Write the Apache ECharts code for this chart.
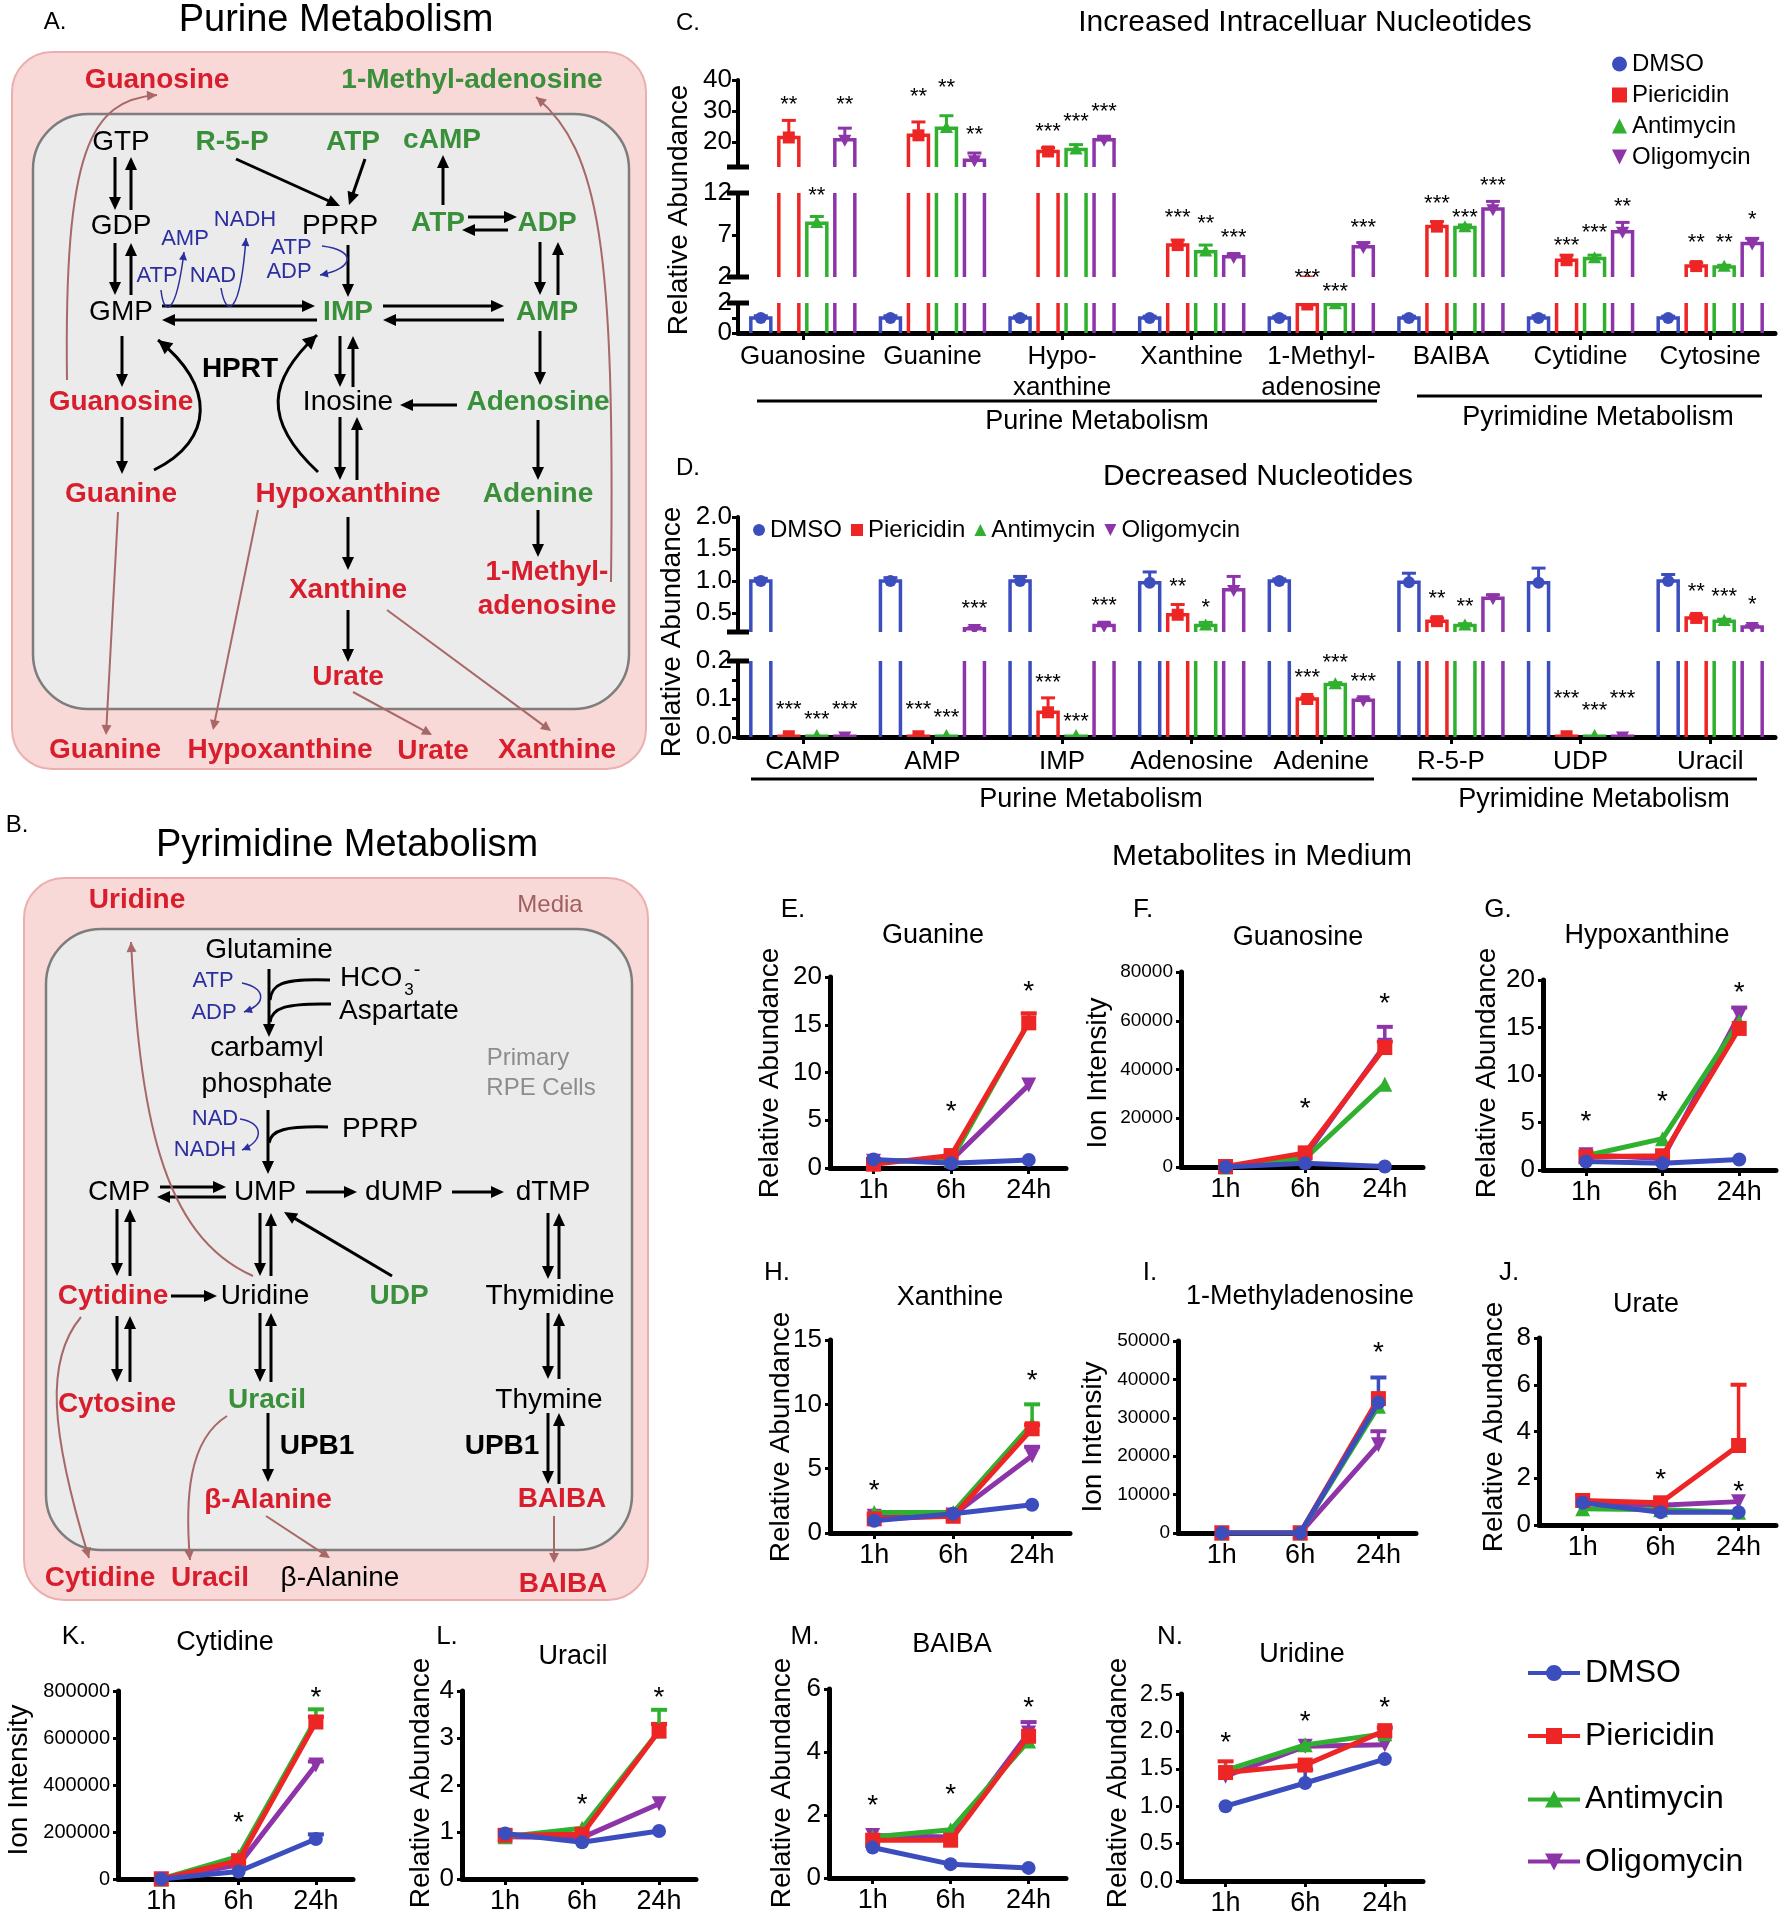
<!DOCTYPE html>
<html><head><meta charset="utf-8">
<script src="https://cdn.jsdelivr.net/npm/echarts@6/dist/echarts.min.js"></script>
<style>html,body{margin:0;padding:0;background:#fff}#chart{width:1779px;height:1920px}</style>
</head><body><div id="chart"></div>
<script>
const FONT = '"Liberation Sans", Arial, Helvetica, sans-serif';
const treatments = ['DMSO', 'Piericidin', 'Antimycin', 'Oligomycin'];
const colors = ['#3C4EBE', '#EE2525', '#2FB12F', '#8D35A8'];
const times = ['1h', '6h', '24h'];

// ---------- Panel C: Increased Intracellular Nucleotides ----------
const cCategories = ['Guanosine', 'Guanine', 'Hypo-\nxanthine', 'Xanthine', '1-Methyl-\nadenosine', 'BAIBA', 'Cytidine', 'Cytosine'];
const cDMSO = [1.0, 1.0, 1.0, 1.0, 1.0, 1.0, 1.0, 1.0];
const cDMSOErr = [1.15, 1.15, 1.12, 1.12, 1.12, 1.12, 1.15, 1.12];
const cPiericidin = [21.5, 22.2, 17.0, 5.8, 1.9, 8.0, 4.0, 3.3];
const cPiericidinErr = [27.0, 26.5, 18.2, 6.4, 2.0, 8.6, 4.6, 3.7];
const cAntimycin = [8.4, 24.5, 17.6, 5.0, 1.9, 7.9, 4.2, 3.2];
const cAntimycinErr = [9.2, 28.5, 19.2, 5.8, 1.95, 8.2, 4.6, 3.4];
const cOligomycin = [20.8, 14.2, 20.8, 4.4, 5.6, 10.1, 7.4, 6.0];
const cOligomycinErr = [24.5, 16.5, 21.8, 4.7, 6.1, 11.0, 8.5, 6.6];
const cPiericidinStars = ['**', '**', '***', '***', '***', '***', '***', '**'];
const cAntimycinStars = ['**', '**', '***', '**', '***', '***', '***', '**'];
const cOligomycinStars = ['**', '**', '***', '***', '***', '***', '**', '*'];
const cPiericidinStarAt = [33.6, 36.1, 24.9, 9.6, 4.0, 11.3, 6.3, 6.6];
const cAntimycinStarAt = [12.2, 39.0, 28.1, 8.9, 3.1, 9.6, 7.8, 6.6];
const cOligomycinStarAt = [33.6, 23.9, 31.3, 7.2, 8.4, 13.4, 10.9, 9.4];

// ---------- Panel D: Decreased Nucleotides ----------
const dCategories = ['CAMP', 'AMP', 'IMP', 'Adenosine', 'Adenine', 'R-5-P', 'UDP', 'Uracil'];
const dDMSO = [1.0, 1.0, 1.0, 0.97, 1.0, 0.98, 0.97, 1.0];
const dDMSOErr = [1.04, 1.05, 1.07, 1.14, 1.03, 1.12, 1.2, 1.1];
const dPiericidin = [0.002, 0.002, 0.065, 0.47, 0.10, 0.37, 0.002, 0.42];
const dPiericidinErr = [0.002, 0.002, 0.103, 0.63, 0.105, 0.42, 0.002, 0.46];
const dAntimycin = [0.002, 0.002, 0.002, 0.30, 0.138, 0.30, 0.002, 0.37];
const dAntimycinErr = [0.002, 0.002, 0.002, 0.35, 0.143, 0.33, 0.002, 0.40];
const dOligomycin = [0.002, 0.25, 0.30, 0.86, 0.097, 0.73, 0.002, 0.28];
const dOligomycinErr = [0.002, 0.27, 0.34, 1.07, 0.102, 0.78, 0.002, 0.30];
const dPiericidinStars = ['***', '***', '***', '**', '***', '**', '***', '**'];
const dAntimycinStars = ['***', '***', '***', '*', '***', '**', '***', '***'];
const dOligomycinStars = ['***', '***', '***', '', '***', '', '***', '*'];
const dPiericidinStarAt = [0.084, 0.084, 0.155, 0.98, 0.168, 0.79, 0.113, 0.90];
const dAntimycinStarAt = [0.058, 0.063, 0.053, 0.65, 0.208, 0.67, 0.082, 0.83];
const dOligomycinStarAt = [0.084, 0.64, 0.69, 0, 0.158, 0, 0.113, 0.70];

// ---------- Metabolites in medium (1h, 6h, 24h) ----------
const guanineDMSO = [0.9, 0.5, 0.85];
const guaninePiericidin = [0.4, 1.3, 15.2];
const guanineAntimycin = [0.7, 0.8, 15.3];
const guanineOligomycin = [0.7, 0.8, 8.7];
const guaninePiericidinErr = [null, null, 16.2];
const guanineStars = [null, 6.6, 19.1];

const guanosineDMSO = [0, 1500, 200];
const guanosinePiericidin = [200, 5800, 49000];
const guanosineAntimycin = [0, 3500, 34000];
const guanosineOligomycin = [0, 4500, 50000];
const guanosinePiericidinErr = [null, null, 51500];
const guanosineOligomycinErr = [null, null, 57500];
const guanosineStars = [null, 26700, 69800];

const hypoxanthineDMSO = [0.9, 0.7, 1.1];
const hypoxanthinePiericidin = [1.4, 1.5, 14.9];
const hypoxanthineAntimycin = [1.5, 3.3, 15.6];
const hypoxanthineOligomycin = [1.6, 1.2, 16.3];
const hypoxanthineOligomycinErr = [null, null, 17.1];
const hypoxanthineStars = [5.8, 7.9, 19.3];

const xanthineDMSO = [0.95, 1.5, 2.2];
const xanthinePiericidin = [1.1, 1.3, 8.1];
const xanthineAntimycin = [1.6, 1.6, 8.5];
const xanthineOligomycin = [1.3, 1.4, 6.0];
const xanthinePiericidinErr = [null, null, 8.4];
const xanthineAntimycinErr = [null, null, 10.0];
const xanthineOligomycinErr = [null, null, 6.7];
const xanthineStars = [3.8, null, 12.3];

const methyladenosineDMSO = [0, 0, 34000];
const methyladenosinePiericidin = [0, 0, 35000];
const methyladenosineAntimycin = [0, 0, 33000];
const methyladenosineOligomycin = [0, 0, 23000];
const methyladenosineDMSOErr = [null, null, 40500];
const methyladenosineOligomycinErr = [null, null, 26500];
const methyladenosineStars = [null, null, 48500];

const urateDMSO = [0.95, 0.55, 0.55];
const uratePiericidin = [1.05, 0.95, 3.4];
const urateAntimycin = [0.7, 0.65, 0.55];
const urateOligomycin = [0.95, 0.85, 1.0];
const uratePiericidinErr = [null, null, 6.0];
const urateStars = [null, 2.2, 1.7];

const cytidineDMSO = [0, 32000, 170000];
const cytidinePiericidin = [0, 78000, 668000];
const cytidineAntimycin = [0, 96000, 680000];
const cytidineOligomycin = [0, 60000, 485000];
const cytidineDMSOErr = [null, null, 190000];
const cytidinePiericidinErr = [null, null, 690000];
const cytidineAntimycinErr = [null, null, 722000];
const cytidineOligomycinErr = [null, null, 500000];
const cytidineStars = [null, 266000, 800000];

const uracilDMSO = [0.97, 0.78, 1.02];
const uracilPiericidin = [0.93, 0.95, 3.15];
const uracilAntimycin = [0.9, 1.08, 3.15];
const uracilOligomycin = [0.9, 0.88, 1.6];
const uracilPiericidinErr = [null, null, 3.3];
const uracilAntimycinErr = [null, null, 3.6];
const uracilStars = [null, 1.72, 4.0];

const baibaDMSO = [0.97, 0.44, 0.32];
const baibaPiericidin = [1.2, 1.2, 4.5];
const baibaAntimycin = [1.3, 1.53, 4.35];
const baibaOligomycin = [1.35, 1.3, 4.6];
const baibaOligomycinErr = [null, null, 4.95];
const baibaStars = [2.5, 2.86, 5.6];

const uridineDMSO = [1.0, 1.31, 1.63];
const uridinePiericidin = [1.45, 1.55, 2.01];
const uridineAntimycin = [1.48, 1.82, 1.97];
const uridineOligomycin = [1.4, 1.8, 1.82];
const uridineDMSOErr = [null, 1.49, null];
const uridinePiericidinErr = [1.6, null, 2.05];
const uridineStars = [1.93, 2.22, 2.4];

// ================= drawing =================
const RED = '#D81E2C', GREEN = '#3A8F3A', BLUE = '#2B2F9E', BROWN = '#A86868';
const PINK = '#F8D9D7', PINKS = '#EBB0AE', GRAY = '#EBEBEB', GRAYS = '#7D7D7D';
const G = [];
function fnt(fs, b) { return (b ? 'bold ' : '') + fs + 'px ' + FONT; }
function txt(x, y, text, o) {
  o = o || {};
  G.push({type: 'text', x: x, y: y, rotation: o.rot || 0, z: o.z || 60, silent: true,
    style: {text: text, fill: o.c || '#000', font: fnt(o.fs || 27, o.b),
      align: o.al || 'center', verticalAlign: o.va || 'middle', textAlign: o.al || 'center', textVerticalAlign: o.va || 'middle'}});
}
function head(tx, ty, dx, dy, col, L, W) {
  const len = Math.hypot(dx, dy), ux = dx / len, uy = dy / len, nx = -uy, ny = ux;
  G.push({type: 'polygon', z: 51, silent: true, shape: {points: [[tx, ty], [tx - ux * L + nx * W, ty - uy * L + ny * W], [tx - ux * L - nx * W, ty - uy * L - ny * W]]}, style: {fill: col}});
}
function arrow(x1, y1, x2, y2, col, lw, L, W) {
  col = col || '#000'; lw = lw || 3; L = L || 13; W = W || 6;
  const dx = x2 - x1, dy = y2 - y1, len = Math.hypot(dx, dy), ux = dx / len, uy = dy / len;
  G.push({type: 'line', z: 50, silent: true, shape: {x1: x1, y1: y1, x2: x2 - ux * L * 0.7, y2: y2 - uy * L * 0.7}, style: {stroke: col, lineWidth: lw}});
  head(x2, y2, dx, dy, col, L, W);
}
function curve(p0, c1, c2, p3, col, lw, L, W, withHead) {
  G.push({type: 'bezierCurve', z: 50, silent: true, shape: {x1: p0[0], y1: p0[1], cpx1: c1[0], cpy1: c1[1], cpx2: c2[0], cpy2: c2[1], x2: p3[0], y2: p3[1]}, style: {stroke: col, lineWidth: lw, fill: 'none'}});
  if (withHead !== false) head(p3[0], p3[1], p3[0] - c2[0], p3[1] - c2[1], col, L, W);
}

// ---- Panel A: Purine metabolism diagram ----
txt(55, 22, 'A.', {fs: 24});
txt(336, 21, 'Purine Metabolism', {fs: 38});
G.push({type: 'rect', z: 1, silent: true, shape: {x: 12, y: 52, width: 634, height: 717, r: 40}, style: {fill: PINK, stroke: PINKS, lineWidth: 2}});
G.push({type: 'rect', z: 2, silent: true, shape: {x: 33, y: 114, width: 596, height: 595, r: 55}, style: {fill: GRAY, stroke: GRAYS, lineWidth: 2.5}});
[['Guanosine', 157, 80, RED, 1], ['1-Methyl-adenosine', 472, 80, GREEN, 1], ['GTP', 121, 142, '#000', 0], ['R-5-P', 232, 142, GREEN, 1],
 ['ATP', 353, 142, GREEN, 1], ['cAMP', 442, 140, GREEN, 1], ['GDP', 121, 226, '#000', 0], ['PPRP', 340, 226, '#000', 0],
 ['ATP', 438, 223, GREEN, 1], ['ADP', 547, 223, GREEN, 1], ['GMP', 121, 312, '#000', 0], ['IMP', 348, 312, GREEN, 1],
 ['AMP', 547, 312, GREEN, 1], ['HPRT', 240, 369, '#000', 1], ['Guanosine', 121, 402, RED, 1], ['Inosine', 348, 402, '#000', 0],
 ['Adenosine', 538, 402, GREEN, 1], ['Guanine', 121, 494, RED, 1], ['Hypoxanthine', 348, 494, RED, 1], ['Adenine', 538, 494, GREEN, 1],
 ['Xanthine', 348, 590, RED, 1], ['1-Methyl-', 547, 572, RED, 1], ['adenosine', 547, 606, RED, 1], ['Urate', 348, 677, RED, 1],
 ['Guanine', 105, 750, RED, 1], ['Hypoxanthine', 280, 750, RED, 1], ['Urate', 433, 751, RED, 1], ['Xanthine', 557, 750, RED, 1]
].forEach(a => txt(a[1], a[2], a[0], {c: a[3], b: a[4], fs: 28}));
[['AMP', 185, 239], ['NADH', 245, 220], ['ATP', 291, 248], ['ADP', 289, 272], ['ATP', 157, 276], ['NAD', 213, 276]]
  .forEach(a => txt(a[1], a[2], a[0], {c: BLUE, fs: 22}));
[[115,157,115,210],[131,210,131,157],[115,243,115,295],[131,295,131,243],[236,159,340,206],[365,159,349,205],
 [443,205,443,155],[468,217,517,217],[508,230,462,230],[540,242,540,295],[558,295,558,242],[348,245,348,297],
 [162,306,315,306],[317,320,162,320],[383,306,504,306],[504,320,383,320],[122,336,122,387],[122,417,122,474],
 [340,336,340,387],[353,387,353,336],[340,417,340,480],[357,480,357,417],[540,331,540,385],[457,405,400,405],
 [538,420,538,480],[538,510,538,557],[348,517,348,570],[348,610,348,662]].forEach(a => arrow(a[0], a[1], a[2], a[3]));
curve([154, 470], [215, 440], [215, 385], [158, 340], '#000', 3, 14, 7);
curve([318, 472], [262, 420], [268, 380], [317, 335], '#000', 3, 14, 7);
curve([161, 290], [164, 318], [176, 316], [184, 252], BLUE, 1.5, 8, 4);
curve([221, 288], [226, 318], [240, 318], [246, 238], BLUE, 1.5, 8, 4);
curve([322, 246], [356, 250], [356, 268], [320, 275], BLUE, 1.5, 8, 4);
curve([67, 380], [64, 150], [90, 100], [157, 95], BROWN, 2, 10, 5);
curve([611, 582], [615, 250], [600, 150], [536, 97], BROWN, 2, 10, 5);
arrow(118, 512, 106, 735, BROWN, 2, 10, 5);
arrow(258, 510, 213, 730, BROWN, 2, 10, 5);
arrow(353, 692, 432, 735, BROWN, 2, 10, 5);
arrow(387, 610, 551, 731, BROWN, 2, 10, 5);

// ---- Panel B: Pyrimidine metabolism diagram ----
txt(17, 825, 'B.', {fs: 24});
txt(347, 846, 'Pyrimidine Metabolism', {fs: 38});
G.push({type: 'rect', z: 1, silent: true, shape: {x: 24, y: 878, width: 624, height: 722, r: 40}, style: {fill: PINK, stroke: PINKS, lineWidth: 2}});
G.push({type: 'rect', z: 2, silent: true, shape: {x: 46, y: 929, width: 586, height: 621, r: 55}, style: {fill: GRAY, stroke: GRAYS, lineWidth: 2.5}});
[['Uridine', 137, 900, RED, 1], ['Glutamine', 269, 950, '#000', 0], ['Aspartate', 399, 1011, '#000', 0], ['carbamyl', 267, 1048, '#000', 0],
 ['phosphate', 267, 1084, '#000', 0], ['PPRP', 380, 1129, '#000', 0], ['CMP', 119, 1192, '#000', 0], ['UMP', 265, 1192, '#000', 0],
 ['dUMP', 404, 1192, '#000', 0], ['dTMP', 553, 1192, '#000', 0], ['Cytidine', 113, 1296, RED, 1], ['Uridine', 265, 1296, '#000', 0],
 ['UDP', 399, 1296, GREEN, 1], ['Thymidine', 550, 1296, '#000', 0], ['Cytosine', 117, 1404, RED, 1], ['Uracil', 267, 1400, GREEN, 1],
 ['Thymine', 549, 1400, '#000', 0], ['UPB1', 317, 1446, '#000', 1], ['UPB1', 502, 1446, '#000', 1], ['β-Alanine', 268, 1500, RED, 1],
 ['BAIBA', 562, 1499, RED, 1], ['Cytidine', 100, 1578, RED, 1], ['Uracil', 210, 1578, RED, 1], ['β-Alanine', 340, 1578, '#000', 0],
 ['BAIBA', 563, 1584, RED, 1]].forEach(a => txt(a[1], a[2], a[0], {c: a[3], b: a[4], fs: 28}));
txt(340, 978, 'HCO', {fs: 28, al: 'left'});
txt(409, 990, '3', {fs: 17});
txt(417, 970, '-', {fs: 20});
txt(550, 905, 'Media', {c: '#A0605F', fs: 24});
txt(528, 1058, 'Primary', {c: '#8C8C8C', fs: 24});
txt(541, 1088, 'RPE Cells', {c: '#8C8C8C', fs: 24});
[['ATP', 213, 981], ['ADP', 214, 1013], ['NAD', 215, 1119], ['NADH', 205, 1150]].forEach(a => txt(a[1], a[2], a[0], {c: BLUE, fs: 22}));
arrow(269, 969, 269, 1037);
curve([330, 980], [280, 978], [272, 985], [270, 1000], '#000', 3, 0, 0, false);
curve([331, 1004], [285, 1003], [272, 1008], [270, 1022], '#000', 3, 0, 0, false);
curve([242, 983], [265, 988], [268, 1003], [244, 1012], BLUE, 1.5, 8, 4);
arrow(268, 1110, 268, 1174);
curve([328, 1127], [285, 1126], [271, 1130], [269, 1143], '#000', 3, 0, 0, false);
curve([240, 1119], [262, 1122], [266, 1140], [242, 1150], BLUE, 1.5, 8, 4);
[[160,1187,226,1187],[226,1197,157,1197],[306,1192,357,1192],[452,1192,504,1192],[117,1209,117,1276],[130,1276,130,1209],
 [117,1316,117,1382],[130,1382,130,1316],[171,1296,217,1296],[260,1213,260,1276],[271,1276,271,1213],[392,1276,284,1212],
 [260,1313,260,1382],[271,1382,271,1313],[268,1413,268,1482],[548,1213,548,1279],[559,1279,559,1213],[548,1313,548,1379],
 [559,1379,559,1313],[548,1413,548,1484],[559,1484,559,1413]].forEach(a => arrow(a[0], a[1], a[2], a[3]));
curve([253, 1276], [160, 1235], [140, 1110], [131, 942], BROWN, 2, 10, 5);
curve([81, 1317], [45, 1360], [50, 1430], [89, 1558], BROWN, 2, 10, 5);
curve([227, 1416], [188, 1440], [185, 1500], [190, 1560], BROWN, 2, 10, 5);
arrow(266, 1516, 330, 1558, BROWN, 2, 10, 5);
arrow(554, 1516, 554, 1563, BROWN, 2, 10, 5);

// ================= charts =================
const option = {backgroundColor: '#fff', animation: false, textStyle: {fontFamily: FONT},
  grid: [], xAxis: [], yAxis: [], series: [], legend: [], graphic: {elements: G}};

const BAR_STEP = 28, BAR_HALF = 10;
function marker(t, x, y, r, col) {
  if (t === 0) return {type: 'circle', shape: {cx: x, cy: y, r: r}, style: {fill: col}};
  if (t === 1) return {type: 'rect', shape: {x: x - r, y: y - r, width: 2 * r, height: 2 * r}, style: {fill: col}};
  if (t === 2) return {type: 'polygon', shape: {points: [[x, y - r * 1.2], [x + r * 1.1, y + r * 0.8], [x - r * 1.1, y + r * 0.8]]}, style: {fill: col}};
  return {type: 'polygon', shape: {points: [[x - r * 1.1, y - r * 0.8], [x + r * 1.1, y - r * 0.8], [x, y + r * 1.2]]}, style: {fill: col}};
}
// hollow bar (open at the bottom so clipped segments show only the sides), error bar and mean marker
function makeBarRenderer(t, smin, smax) {
  return function (params, api) {
    const ci = api.value(0), v = api.value(1), e = api.value(2);
    const pv = api.coord([ci, v]), y0 = api.coord([ci, 0])[1];
    const x = pv[0] + (t - 1.5) * BAR_STEP, y = pv[1], col = colors[t], ch = [];
    if (v >= smin) {
      ch.push({type: 'polyline', shape: {points: [[x - BAR_HALF, y0], [x - BAR_HALF, y], [x + BAR_HALF, y], [x + BAR_HALF, y0]]},
        style: {stroke: col, lineWidth: 3.5, fill: 'none'}});
    }
    if (!isNaN(e) && e > v && e >= smin) {
      const ye = api.coord([ci, e])[1];
      ch.push({type: 'line', shape: {x1: x, y1: y, x2: x, y2: ye}, style: {stroke: col, lineWidth: 3}});
      if (e <= smax) ch.push({type: 'line', shape: {x1: x - 7, y1: ye, x2: x + 7, y2: ye}, style: {stroke: col, lineWidth: 3}});
    }
    if (v >= smin && v <= smax) ch.push(marker(t, x, y, 6, col));
    return {type: 'group', children: ch};
  };
}

function buildBarPanel(cfg) {
  cfg.segs.forEach((s, si) => {
    const gi = option.grid.length;
    const isBottom = si === cfg.segs.length - 1;
    option.grid.push({left: cfg.left, right: cfg.right, top: s.top, height: s.height});
    option.xAxis.push({type: 'category', gridIndex: gi, data: cfg.cats,
      axisLine: {show: isBottom, onZero: false, lineStyle: {color: '#000', width: 5}},
      axisTick: {show: isBottom, alignWithLabel: true, length: 7, lineStyle: {color: '#000', width: 3}},
      axisLabel: {show: isBottom, interval: 0, fontSize: 26, color: '#000', margin: cfg.labelMargin, lineHeight: 31, fontFamily: FONT},
      splitLine: {show: false}});
    option.yAxis.push({type: 'value', gridIndex: gi, min: s.min, max: s.max,
      axisLine: {show: true, onZero: false, lineStyle: {color: '#000', width: 4}},
      axisTick: {show: true, customValues: s.ticks, length: 6, lineStyle: {color: '#000', width: 3}},
      axisLabel: {customValues: s.labels, fontSize: 26, color: '#000', margin: 6, fontFamily: FONT, formatter: s.fmt || (v => String(v))},
      splitLine: {show: false}});
    treatments.forEach((name, t) => {
      option.series.push({type: 'custom', name: name, xAxisIndex: gi, yAxisIndex: gi, clip: true, silent: true, z: 2 + t * 0.1,
        itemStyle: {color: colors[t]},
        data: cfg.means[t].map((v, ci) => [ci, v, cfg.errs[t][ci]]), encode: {x: 0, y: 1},
        renderItem: makeBarRenderer(t, s.min, s.max)});
    });
    const starPts = [], starTexts = [];
    for (let t = 1; t < 4; t++) {
      cfg.stars[t - 1].forEach((st, ci) => {
        if (st && cfg.segOf(cfg.means[t][ci]) === si) { starPts.push([ci, cfg.starAt[t - 1][ci], t]); starTexts.push(st); }
      });
    }
    option.series.push({type: 'custom', xAxisIndex: gi, yAxisIndex: gi, clip: false, silent: true, z: 4,
      data: starPts, encode: {x: 0, y: 1},
      renderItem: function (params, api) {
        const c = api.coord([api.value(0), api.value(1)]);
        return {type: 'text', x: c[0] + (api.value(2) - 1.5) * BAR_STEP, y: c[1] + 5,
          style: {text: starTexts[params.dataIndex], fill: '#000', font: fnt(22), align: 'center', verticalAlign: 'middle', textAlign: 'center', textVerticalAlign: 'middle'}};
      }});
  });
}

buildBarPanel({
  cats: cCategories, left: 738, right: 4, labelMargin: 8,
  means: [cDMSO, cPiericidin, cAntimycin, cOligomycin],
  errs: [cDMSOErr, cPiericidinErr, cAntimycinErr, cOligomycinErr],
  stars: [cPiericidinStars, cAntimycinStars, cOligomycinStars],
  starAt: [cPiericidinStarAt, cAntimycinStarAt, cOligomycinStarAt],
  segOf: v => (v > 12 ? 0 : v > 2 ? 1 : 2),
  segs: [
    {top: 80, height: 87, min: 12, max: 40, ticks: [20, 30, 40], labels: [20, 30, 40]},
    {top: 193, height: 84, min: 2, max: 12, ticks: [2, 7, 12], labels: [2, 7, 12]},
    {top: 303, height: 30, min: 0, max: 2, ticks: [0, 1, 2], labels: [0, 2]}
  ]
});
buildBarPanel({
  cats: dCategories, left: 738, right: 4, labelMargin: 9,
  means: [dDMSO, dPiericidin, dAntimycin, dOligomycin],
  errs: [dDMSOErr, dPiericidinErr, dAntimycinErr, dOligomycinErr],
  stars: [dPiericidinStars, dAntimycinStars, dOligomycinStars],
  starAt: [dPiericidinStarAt, dAntimycinStarAt, dOligomycinStarAt],
  segOf: v => (v > 0.2 ? 0 : 1),
  segs: [
    {top: 517, height: 115, min: 0.2, max: 2.0, ticks: [0.5, 1.0, 1.5, 2.0], labels: [0.5, 1.0, 1.5, 2.0], fmt: v => v.toFixed(1)},
    {top: 661, height: 76, min: 0, max: 0.2, ticks: [0, 0.05, 0.1, 0.15, 0.2], labels: [0, 0.1, 0.2], fmt: v => v.toFixed(1)}
  ]
});

// break marks, group lines, titles for C and D
[167, 193, 277, 303, 632, 661].forEach(y => G.push({type: 'line', z: 60, silent: true, shape: {x1: 727, y1: y, x2: 749, y2: y}, style: {stroke: '#000', lineWidth: 5}}));
[[757, 1377, 401], [1417, 1762, 396], [751, 1374, 779], [1412, 1757, 779]].forEach(a =>
  G.push({type: 'line', z: 60, silent: true, shape: {x1: a[0], y1: a[2], x2: a[1], y2: a[2]}, style: {stroke: '#000', lineWidth: 3}}));
txt(1097, 422, 'Purine Metabolism', {fs: 27});
txt(1598, 418, 'Pyrimidine Metabolism', {fs: 27});
txt(1091, 800, 'Purine Metabolism', {fs: 27});
txt(1594, 800, 'Pyrimidine Metabolism', {fs: 27});
txt(688, 23, 'C.', {fs: 24});
txt(1305, 23, 'Increased Intracelluar Nucleotides', {fs: 30});
txt(688, 468, 'D.', {fs: 24});
txt(1258, 477, 'Decreased Nucleotides', {fs: 30});
txt(679, 210, 'Relative Abundance', {fs: 28, rot: Math.PI / 2});
txt(672, 632, 'Relative Abundance', {fs: 28, rot: Math.PI / 2});
txt(1262, 857, 'Metabolites in Medium', {fs: 30});

// legends
const barIcons = ['circle', 'rect', 'triangle', 'path://M0,0L10,0L5,10Z'];
option.legend.push({orient: 'vertical', left: 1612, top: 52, padding: 0, itemWidth: 15, itemHeight: 15, itemGap: 7, selectedMode: false,
  textStyle: {fontSize: 24, fontFamily: FONT, color: '#000'},
  data: treatments.map((n, i) => ({name: n, icon: barIcons[i], itemStyle: {color: colors[i], borderWidth: 0}}))});
option.legend.push({orient: 'horizontal', left: 753, top: 518, padding: 0, itemWidth: 12, itemHeight: 12, itemGap: 9, selectedMode: false,
  textStyle: {fontSize: 24, fontFamily: FONT, color: '#000'},
  data: treatments.map((n, i) => ({name: n, icon: barIcons[i], itemStyle: {color: colors[i], borderWidth: 0}}))});
const lineIcons = [
  'path://M0,7H52V11H0Z M18,9A8,8 0 1,1 34,9A8,8 0 1,1 18,9Z',
  'path://M0,7H52V11H0Z M18,1H34V17H18Z',
  'path://M0,7H52V11H0Z M26,0L35,17H17Z',
  'path://M0,7H52V11H0Z M17,1H35L26,18Z'];
option.legend.push({orient: 'vertical', left: 1528, top: 1657, padding: 0, itemWidth: 52, itemHeight: 18, itemGap: 31, selectedMode: false,
  textStyle: {fontSize: 32, fontFamily: FONT, color: '#000'},
  data: treatments.map((n, i) => ({name: n, icon: lineIcons[i], itemStyle: {color: colors[i], borderWidth: 0}}))});

// line panels
const lineSymbols = ['circle', 'rect', 'triangle', 'path://M0,0L10,0L5,10Z'];
const linePanels = [
  {letter: 'E.', title: 'Guanine', yName: 'Relative Abundance', max: 20, interval: 5, fs: 26,
   values: [guanineDMSO, guaninePiericidin, guanineAntimycin, guanineOligomycin], errs: [null, guaninePiericidinErr, null, null], stars: guanineStars,
   lay: {left: 830, width: 236, top: 977, height: 191, letter: [793, 910], title: [933, 936], yname: [770, 1073]}},
  {letter: 'F.', title: 'Guanosine', yName: 'Ion Intensity', max: 80000, interval: 20000, fs: 19,
   values: [guanosineDMSO, guanosinePiericidin, guanosineAntimycin, guanosineOligomycin], errs: [null, guanosinePiericidinErr, null, guanosineOligomycinErr], stars: guanosineStars,
   lay: {left: 1181, width: 242, top: 972, height: 195, letter: [1143, 910], title: [1298, 938], yname: [1098, 1073]}},
  {letter: 'G.', title: 'Hypoxanthine', yName: 'Relative Abundance', max: 20, interval: 5, fs: 26,
   values: [hypoxanthineDMSO, hypoxanthinePiericidin, hypoxanthineAntimycin, hypoxanthineOligomycin], errs: [null, null, null, hypoxanthineOligomycinErr], stars: hypoxanthineStars,
   lay: {left: 1543, width: 233, top: 980, height: 190, letter: [1498, 910], title: [1647, 936], yname: [1487, 1073]}},
  {letter: 'H.', title: 'Xanthine', yName: 'Relative Abundance', max: 15, interval: 5, fs: 26,
   values: [xanthineDMSO, xanthinePiericidin, xanthineAntimycin, xanthineOligomycin], errs: [null, xanthinePiericidinErr, xanthineAntimycinErr, xanthineOligomycinErr], stars: xanthineStars,
   lay: {left: 830, width: 240, top: 1340, height: 193, letter: [777, 1273], title: [950, 1298], yname: [781, 1437]}},
  {letter: 'I.', title: '1-Methyladenosine', yName: 'Ion Intensity', max: 50000, interval: 10000, fs: 19,
   values: [methyladenosineDMSO, methyladenosinePiericidin, methyladenosineAntimycin, methyladenosineOligomycin], errs: [methyladenosineDMSOErr, null, null, methyladenosineOligomycinErr], stars: methyladenosineStars,
   lay: {left: 1178, width: 238, top: 1341, height: 192, letter: [1150, 1273], title: [1300, 1297], yname: [1093, 1437]}},
  {letter: 'J.', title: 'Urate', yName: 'Relative Abundance', max: 8, interval: 2, fs: 26,
   values: [urateDMSO, uratePiericidin, urateAntimycin, urateOligomycin], errs: [null, uratePiericidinErr, null, null], stars: urateStars,
   lay: {left: 1539, width: 237, top: 1338, height: 187, letter: [1509, 1273], title: [1646, 1305], yname: [1494, 1427]}},
  {letter: 'K.', title: 'Cytidine', yName: 'Ion Intensity', max: 800000, interval: 200000, fs: 20,
   values: [cytidineDMSO, cytidinePiericidin, cytidineAntimycin, cytidineOligomycin], errs: [cytidineDMSOErr, cytidinePiericidinErr, cytidineAntimycinErr, cytidineOligomycinErr], stars: cytidineStars,
   lay: {left: 118, width: 235, top: 1691, height: 188, letter: [74, 1637], title: [225, 1643], yname: [19, 1780]}},
  {letter: 'L.', title: 'Uracil', yName: 'Relative Abundance', max: 4, interval: 1, fs: 26,
   values: [uracilDMSO, uracilPiericidin, uracilAntimycin, uracilOligomycin], errs: [null, uracilPiericidinErr, uracilAntimycinErr, null], stars: uracilStars,
   lay: {left: 462, width: 234, top: 1691, height: 188, letter: [447, 1637], title: [573, 1657], yname: [421, 1783]}},
  {letter: 'M.', title: 'BAIBA', yName: 'Relative Abundance', max: 6, interval: 2, fs: 26,
   values: [baibaDMSO, baibaPiericidin, baibaAntimycin, baibaOligomycin], errs: [null, null, null, baibaOligomycinErr], stars: baibaStars,
   lay: {left: 829, width: 237, top: 1689, height: 189, letter: [805, 1637], title: [952, 1645], yname: [782, 1783]}},
  {letter: 'N.', title: 'Uridine', yName: 'Relative Abundance', max: 2.5, interval: 0.5, fs: 24, fmt: v => v.toFixed(1),
   values: [uridineDMSO, uridinePiericidin, uridineAntimycin, uridineOligomycin], errs: [uridineDMSOErr, uridinePiericidinErr, null, null], stars: uridineStars,
   lay: {left: 1181, width: 242, top: 1694, height: 187, letter: [1170, 1637], title: [1302, 1655], yname: [1118, 1783]}}
];

function renderLineErr(params, api) {
  const x = api.value(0), v = api.value(1), e = api.value(2), t = api.value(3);
  const p = api.coord([x, v]), pe = api.coord([x, e]), col = colors[t];
  return {type: 'group', children: [
    {type: 'line', shape: {x1: p[0], y1: p[1], x2: p[0], y2: pe[1]}, style: {stroke: col, lineWidth: 3.5}},
    {type: 'line', shape: {x1: p[0] - 8, y1: pe[1], x2: p[0] + 8, y2: pe[1]}, style: {stroke: col, lineWidth: 4}}]};
}

linePanels.forEach(p => {
  const gi = option.grid.length, L = p.lay;
  option.grid.push({left: L.left, width: L.width, top: L.top, height: L.height});
  option.xAxis.push({type: 'value', gridIndex: gi, min: 0.44, max: 3.48,
    axisLine: {show: true, onZero: false, lineStyle: {color: '#000', width: 5}},
    axisTick: {show: true, customValues: [1, 2, 3], length: 6, lineStyle: {color: '#000', width: 3}},
    axisLabel: {customValues: [1, 2, 3], formatter: v => times[Math.round(v) - 1], fontSize: 27, color: '#000', margin: 9, fontFamily: FONT},
    splitLine: {show: false}});
  option.yAxis.push({type: 'value', gridIndex: gi, min: 0, max: p.max, interval: p.interval,
    axisLine: {show: true, onZero: false, lineStyle: {color: '#000', width: 5}},
    axisTick: {show: true, length: 5, lineStyle: {color: '#000', width: 3}},
    axisLabel: {fontSize: p.fs, color: '#000', margin: 8, fontFamily: FONT, formatter: p.fmt || (v => String(v))},
    splitLine: {show: false}});
  [3, 2, 1, 0].forEach(t => {
    option.series.push({type: 'line', name: treatments[t], xAxisIndex: gi, yAxisIndex: gi, silent: true, z: 5 + (3 - t),
      data: p.values[t].map((v, i) => [i + 1, v]), symbol: lineSymbols[t], symbolSize: t === 0 ? 14 : 15,
      lineStyle: {color: colors[t], width: 5}, itemStyle: {color: colors[t]}});
  });
  const ep = [];
  p.errs.forEach((arr, t) => { if (arr) arr.forEach((e, i) => { if (e != null) ep.push([i + 1, p.values[t][i], e, t]); }); });
  option.series.push({type: 'custom', xAxisIndex: gi, yAxisIndex: gi, silent: true, z: 4, data: ep, encode: {x: 0, y: 1}, renderItem: renderLineErr});
  const sp = [];
  p.stars.forEach((s, i) => { if (s != null) sp.push([i + 1, s]); });
  option.series.push({type: 'custom', xAxisIndex: gi, yAxisIndex: gi, silent: true, clip: false, z: 9, data: sp, encode: {x: 0, y: 1},
    renderItem: function (params, api) {
      const c = api.coord([api.value(0), api.value(1)]);
      return {type: 'text', x: c[0], y: c[1] + 7, style: {text: '*', fill: '#000', font: fnt(28), align: 'center', verticalAlign: 'middle', textAlign: 'center', textVerticalAlign: 'middle'}};
    }});
  txt(L.letter[0], L.letter[1], p.letter, {fs: 26});
  txt(L.title[0], L.title[1], p.title, {fs: 27});
  txt(L.yname[0], L.yname[1], p.yName, {fs: 28, rot: Math.PI / 2});
});

const chart = echarts.init(document.getElementById('chart'), null, {renderer: 'canvas', width: 1779, height: 1920});
chart.setOption(option);
</script></body></html>
